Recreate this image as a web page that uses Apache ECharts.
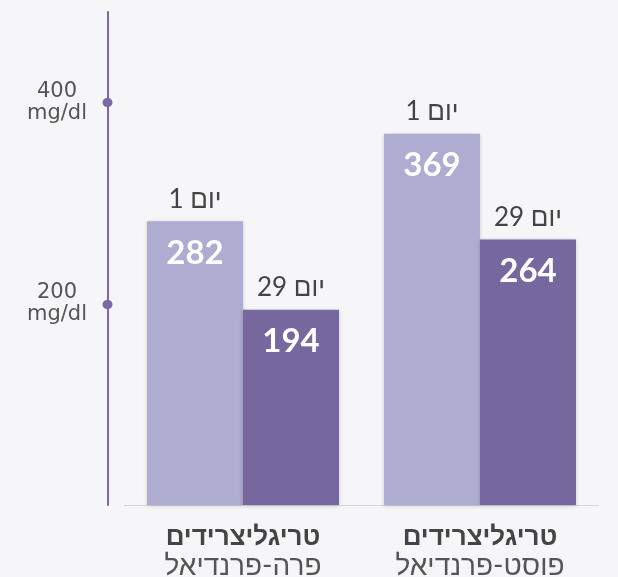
<!DOCTYPE html>
<html>
<head>
<meta charset="utf-8">
<script src="https://cdn.jsdelivr.net/npm/echarts@6/dist/echarts.min.js"></script>
<style>
  html, body { margin: 0; padding: 0; background: #f6f6f8; }
  #chart { width: 618px; height: 577px; }
</style>
</head>
<body>
<div id="chart"></div>
<script>
// categories (bold line + second line)
const categories = ['טריגליצרידים\nפרה-פרנדיאל', 'טריגליצרידים\nפוסט-פרנדיאל']
const seriesNames = ['יום 1', 'יום 29']
const day1 = [282, 369]
const day29 = [194, 264]
const yTicks = [200, 400]
const yUnit = 'mg/dl'

const colors = ['#aeacd0', '#77679f']
const font = 'Lato, "Liberation Sans", "DejaVu Sans", sans-serif'

function barLabel() {
  return {
    show: true,
    position: 'insideTop',
    distance: 0,
    offset: [0, -44],
    formatter: function (p) {
      return '{d|' + p.seriesName + '}\n{v|' + p.value + '}'
    },
    rich: {
      d: { fontSize: 26, lineHeight: 44, color: '#444', fontFamily: font },
      v: { fontSize: 33, lineHeight: 64, color: '#fff', fontWeight: 'bold', fontFamily: font }
    }
  }
}

const barStyle = function (c) {
  return {
    color: c,
    shadowBlur: 4,
    shadowColor: 'rgba(0,0,0,0.18)',
    shadowOffsetY: 1
  }
}

let chart = echarts.init(document.getElementById('chart'), null, { renderer: 'canvas' })

let option = {
  backgroundColor: '#f6f6f8',
  animation: false,
  grid: {
    left: 124.5,
    right: 19.5,
    top: 12,
    bottom: 72,
    outerBoundsMode: 'none'
  },
  xAxis: {
    type: 'category',
    data: categories,
    axisLine: { lineStyle: { color: '#d6d6dc', width: 1 } },
    axisTick: { show: false },
    axisLabel: {
      margin: 17,
      interval: 0,
      formatter: function (v) {
        let parts = v.split('\n')
        return '{b|' + parts[0] + '}\n{r|' + parts[1] + '}'
      },
      rich: {
        b: { fontSize: 26, lineHeight: 29, fontWeight: 'bold', color: '#444', fontFamily: font },
        r: { fontSize: 28, lineHeight: 29, color: '#555', fontFamily: font }
      }
    }
  },
  yAxis: {
    type: 'value',
    min: 0,
    max: 490,
    interval: 200,
    offset: 16.5,
    axisLine: { show: true, lineStyle: { color: '#7a68a8', width: 2 } },
    axisTick: {
      show: true,
      customValues: yTicks,
      length: 1,
      lineStyle: { color: '#7a68a8', width: 9, cap: 'round' }
    },
    axisLabel: {
      customValues: yTicks,
      margin: 51,
      align: 'center',
      fontSize: 21,
      lineHeight: 22,
      color: '#555',
      fontFamily: '"DejaVu Sans", sans-serif',
      formatter: function (v) { return v + '\n' + yUnit }
    },
    splitLine: {
      show: true,
      showMinLine: false,
      showMaxLine: false,
      lineStyle: { color: '#d9d9de', width: 1 }
    }
  },
  series: [
    {
      name: seriesNames[0],
      type: 'bar',
      data: day1,
      barWidth: 96,
      barGap: '0%',
      itemStyle: barStyle(colors[0]),
      label: barLabel()
    },
    {
      name: seriesNames[1],
      type: 'bar',
      data: day29,
      barWidth: 96,
      barGap: '0%',
      itemStyle: barStyle(colors[1]),
      label: barLabel()
    }
  ]
}

chart.setOption(option)
</script>
</body>
</html>
